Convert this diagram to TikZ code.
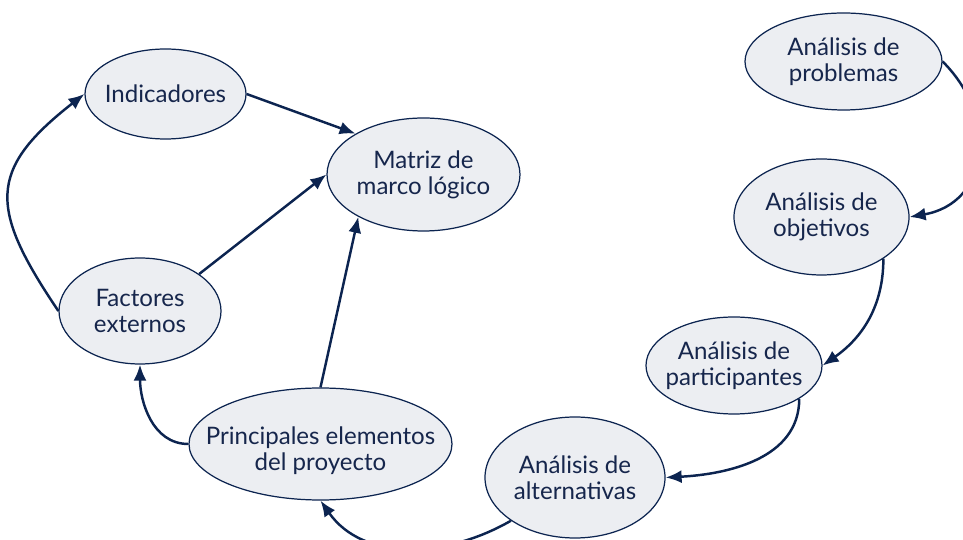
\documentclass[tikz,border=0pt]{standalone}
\usepackage{fontspec}
\setmainfont{Lato}
\usetikzlibrary{shapes.geometric,arrows.meta}
\definecolor{navy}{RGB}{12,36,80}
\definecolor{inkblue}{RGB}{22,38,76}
\definecolor{paleblue}{RGB}{236,238,242}
\tikzset{
  bubble/.style={ellipse, draw=navy, line width=0.7pt, fill=paleblue, inner sep=0pt},
  txt/.style={align=center, text=inkblue, font=\fontsize{13.7}{14.8}\selectfont},
  flow/.style={draw=navy, line width=1.4pt, -{Latex[length=3.2mm,width=2.6mm]}}
}
\begin{document}
\begin{tikzpicture}
  \useasboundingbox (0,0) rectangle (19.26,10.8);
  \node[bubble, minimum width=3.22cm, minimum height=1.80cm, label={[txt]center:Indicadores}] (ind) at (3.31,8.92) {};
  \node[bubble, minimum width=3.86cm, minimum height=2.26cm, label={[txt]center:{Matriz de\\marco lógico}}] (mat) at (8.47,7.31) {};
  \node[bubble, minimum width=3.24cm, minimum height=2.12cm, label={[txt]center:{Factores\\externos}}] (fac) at (2.80,4.58) {};
  \node[bubble, minimum width=5.26cm, minimum height=2.24cm, label={[txt, yshift=-0.14cm]center:{Principales elementos\\del proyecto}}] (pri) at (6.41,1.92) {};
  \node[bubble, minimum width=3.60cm, minimum height=2.42cm, label={[txt]center:{Análisis de\\alternativas}}] (alt) at (11.50,1.25) {};
  \node[bubble, minimum width=3.52cm, minimum height=1.94cm, label={[txt]center:{Análisis de\\participantes}}] (par) at (14.68,3.49) {};
  \node[bubble, minimum width=3.50cm, minimum height=2.32cm, label={[txt]center:{Análisis de\\objetivos}}] (obj) at (16.43,6.46) {};
  \node[bubble, minimum width=3.94cm, minimum height=1.94cm, label={[txt]center:{Análisis de\\problemas}}] (pro) at (16.87,9.57) {};

  \draw[flow] (pro.east) to[out=-45, in=10, looseness=1.3] (obj.east);
  \draw[flow] (obj.-34) to[out=-90, in=35] (par.east);
  \draw[flow] (par.-27) to[out=-90, in=3] (alt.east);
  \draw[flow] (alt.-146) to[out=-150, in=-55] (pri.south);
  \draw[flow] (pri.west) to[out=180, in=-90] (fac.south);
  \draw[flow] (fac.west) to[out=124, in=-142, looseness=1.45] (ind.west);
  \draw[flow] (ind.east) -- (mat.149);
  \draw[flow] (fac.32) -- (mat.west);
  \draw[flow] (pri.north) -- (mat.213);
\end{tikzpicture}
\end{document}
